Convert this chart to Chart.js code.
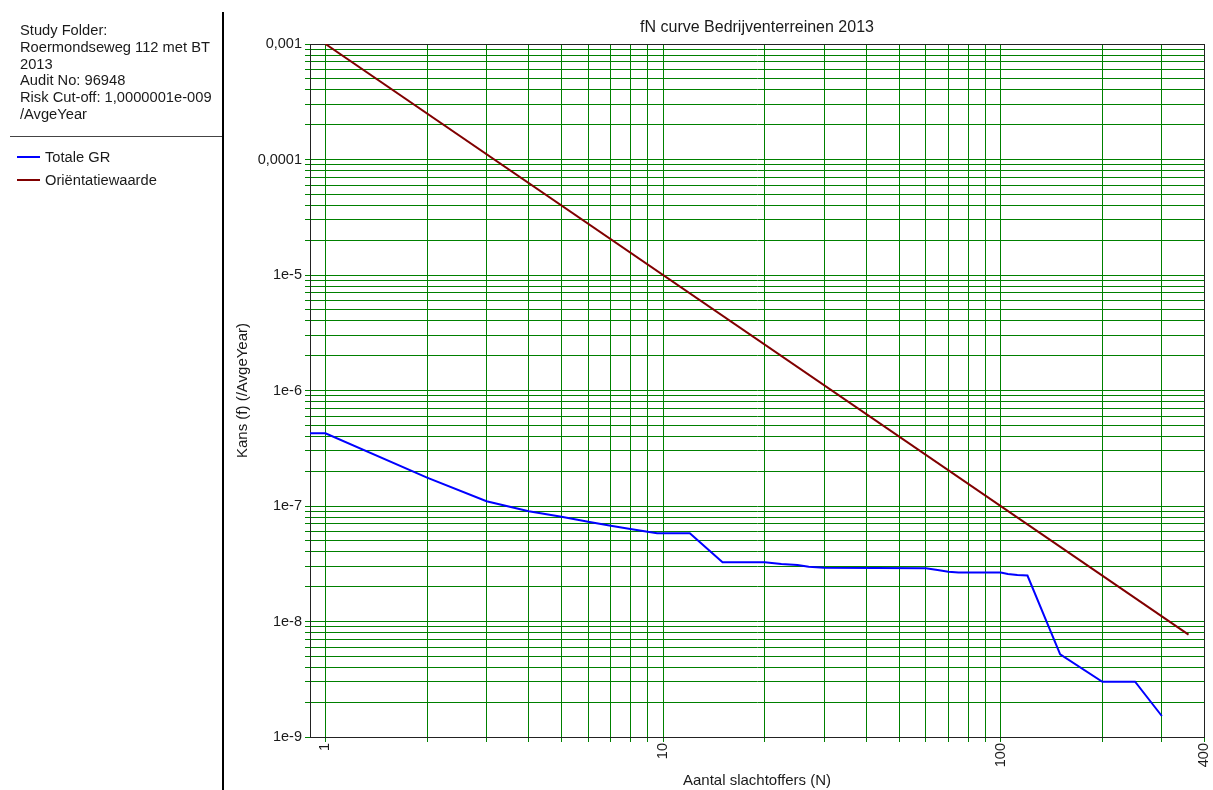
<!DOCTYPE html>
<html>
<head>
<meta charset="utf-8">
<script src="https://cdn.jsdelivr.net/npm/chart.js@4"></script>
<style>
  html, body { margin: 0; padding: 0; background: #fff; }
  body { width: 1213px; height: 790px; position: relative; overflow: hidden; font-family: "Liberation Sans", Arial, sans-serif; color: #1a1a1a; }
  #wrap { position: absolute; left: 0; top: 0; width: 1213px; height: 790px; }
  #info { position: absolute; left: 20px; top: 22px; font-size: 14.7px; line-height: 16.8px; white-space: nowrap; }
  #vline { position: absolute; left: 222px; top: 12px; width: 2px; height: 778px; background: #000; }
  #hline { position: absolute; left: 10px; top: 136px; width: 213px; height: 1px; background: #444; }
  .leg { position: absolute; left: 17px; font-size: 14.7px; line-height: 16px; white-space: nowrap; }
  .leg span.sw { position: absolute; left: 0; top: 7px; width: 23px; height: 2px; }
  .leg span.tx { position: absolute; left: 28px; top: 0; }
</style>
</head>
<body>
<div id="wrap"><canvas id="c" width="1213" height="790"></canvas></div>
<div id="info">Study Folder:<br>Roermondseweg 112 met BT<br>2013<br>Audit No: 96948<br>Risk Cut-off: 1,0000001e-009<br>/AvgeYear</div>
<div id="hline"></div>
<div id="vline"></div>
<div class="leg" style="top:149px"><span class="sw" style="background:#0000ff"></span><span class="tx">Totale GR</span></div>
<div class="leg" style="top:172px"><span class="sw" style="background:#800000"></span><span class="tx">Oriëntatiewaarde</span></div>
<script>
// ---- data ----
const chartTitle = "fN curve Bedrijventerreinen 2013";
const xTitle = "Aantal slachtoffers (N)";
const yTitle = "Kans (f) (/AvgeYear)";
const seriesNames = ["Totale GR", "Oriëntatiewaarde"];

const totaleN = [0.9, 1, 2, 3, 4, 5, 6, 7, 8, 9, 9.6, 12, 15, 20, 22.4, 25, 27, 30, 60, 65, 70, 75, 100, 105, 112, 120, 150, 200, 250, 300];
const totaleF = [4.26e-7, 4.26e-7, 1.76e-7, 1.10e-7, 8.99e-8, 8.08e-8, 7.31e-8, 6.75e-8, 6.32e-8, 5.99e-8, 5.80e-8, 5.80e-8, 3.26e-8, 3.26e-8, 3.15e-8, 3.08e-8, 2.98e-8, 2.92e-8, 2.89e-8, 2.79e-8, 2.70e-8, 2.65e-8, 2.65e-8, 2.58e-8, 2.53e-8, 2.50e-8, 5.20e-9, 3.01e-9, 3.01e-9, 1.52e-9];

const orientN = [1, 360];
const orientF = [1e-3, 7.7e-9];

const xLabelValues = [1, 10, 100, 400];
const xLabelTexts = ["1", "10", "100", "400"];
const yLabelValues = [1e-3, 1e-4, 1e-5, 1e-6, 1e-7, 1e-8, 1e-9];
const yLabelTexts = ["0,001", "0,0001", "1e-5", "1e-6", "1e-7", "1e-8", "1e-9"];

const xMin = 0.9, xMax = 400, yMin = 1e-9, yMax = 1e-3;

// ---- grid positions (1..9 per decade) ----
function logGrid(lo, hi) {
  const out = [];
  for (let e = Math.floor(Math.log10(lo)); e <= Math.ceil(Math.log10(hi)); e++) {
    for (let m = 1; m <= 9; m++) {
      const v = parseFloat((m * Math.pow(10, e)).toPrecision(6));
      if (v >= lo * 0.9999 && v <= hi * 1.0001) out.push(v);
    }
  }
  return out;
}
const xGrid = logGrid(1, xMax);
const yGrid = logGrid(yMin, yMax);

function labelFor(vals, texts, v) {
  for (let i = 0; i < vals.length; i++) {
    if (Math.abs(vals[i] - v) / vals[i] < 1e-6) return texts[i];
  }
  return "";
}

const fam = "'Liberation Sans', Arial, sans-serif";
const tickFont = { family: fam, size: 14.5 };
const titleFont = { family: fam, size: 15 };
const green = "#008000";

const frame = {
  id: "frame",
  beforeDatasetsDraw(chart) {
    const a = chart.chartArea, ctx = chart.ctx;
    ctx.save();
    ctx.strokeStyle = "#222";
    ctx.lineWidth = 1;
    ctx.strokeRect(Math.round(a.left) + 0.5, Math.round(a.top) + 0.5, Math.round(a.right - a.left), Math.round(a.bottom - a.top));
    ctx.restore();
  },
  afterDraw(chart) {
    const a = chart.chartArea, ctx = chart.ctx;
    ctx.save();
    ctx.fillStyle = "#1a1a1a";
    ctx.font = "16px " + fam;
    ctx.textAlign = "center";
    ctx.textBaseline = "middle";
    ctx.fillText(chartTitle, (a.left + a.right) / 2, 28);
    ctx.restore();
  }
};

new Chart(document.getElementById("c"), {
  type: "line",
  data: {
    datasets: [
      { label: seriesNames[0], data: totaleN.map((n, i) => ({ x: n, y: totaleF[i] })), borderColor: "#0000ff", borderWidth: 2, pointRadius: 0, tension: 0, fill: false },
      { label: seriesNames[1], data: orientN.map((n, i) => ({ x: n, y: orientF[i] })), borderColor: "#800000", borderWidth: 2, pointRadius: 0, tension: 0, fill: false }
    ]
  },
  options: {
    responsive: false,
    animation: false,
    devicePixelRatio: 1,
    layout: { padding: { left: 226, right: 0, top: 44, bottom: 0 } },
    plugins: {
      legend: { display: false },
      tooltip: { enabled: false },
      title: { display: false }
    },
    scales: {
      x: {
        type: "logarithmic", min: xMin, max: xMax,
        afterFit(s) { s.height = 53; s.paddingRight = 9; s.paddingLeft = 0; },
        afterBuildTicks(s) { s.ticks = xGrid.map(v => ({ value: v })); },
        ticks: { autoSkip: false, minRotation: 90, maxRotation: 90, padding: 1, color: "#1a1a1a", font: tickFont, callback: v => labelFor(xLabelValues, xLabelTexts, v) },
        grid: { color: green, tickColor: green, lineWidth: 1, tickLength: 5, drawTicks: true },
        border: { display: true, color: "#222" },
        title: { display: true, text: xTitle, color: "#1a1a1a", font: titleFont, padding: { top: 0, bottom: 0 } }
      },
      y: {
        type: "logarithmic", min: yMin, max: yMax,
        afterFit(s) { s.width = 84; },
        afterBuildTicks(s) { s.ticks = yGrid.map(v => ({ value: v })); },
        ticks: { autoSkip: false, padding: 3, color: "#1a1a1a", font: tickFont, callback: v => labelFor(yLabelValues, yLabelTexts, v) },
        grid: { color: green, tickColor: green, lineWidth: 1, tickLength: 5, drawTicks: true },
        border: { display: true, color: "#000" },
        title: { display: true, text: yTitle, color: "#1a1a1a", font: titleFont, padding: { top: 8, bottom: 0 } }
      }
    }
  },
  plugins: [frame]
});
</script>
</body>
</html>
